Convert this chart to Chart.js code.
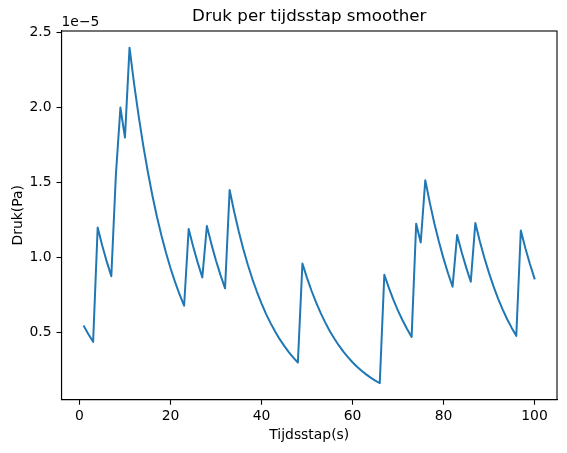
<!DOCTYPE html>
<html>
<head>
<meta charset="utf-8">
<script src="https://cdn.jsdelivr.net/npm/chart.js@4/dist/chart.umd.min.js"></script>
<style>
    html, body { margin: 0; padding: 0; background: #fff; }
    #wrap { width: 567px; height: 453px; }
</style>
</head>
<body>
<div id="wrap"><canvas id="drukChart" width="567" height="453"></canvas></div>
<script>
"use strict";

// Druk per tijdsstap, in eenheden van 1e-5 Pa
const pressure = [
    0.540, 0.486, 0.437, 1.200, 1.080, 0.972, 0.875, 1.550, 2.000, 1.800,
    2.400, 2.160, 1.944, 1.750, 1.575, 1.417, 1.275, 1.148, 1.033, 0.930,
    0.837, 0.753, 0.678, 1.190, 1.071, 0.964, 0.867, 1.210, 1.089, 0.980,
    0.882, 0.794, 1.450, 1.305, 1.175, 1.057, 0.951, 0.856, 0.771, 0.694,
    0.624, 0.562, 0.506, 0.455, 0.410, 0.369, 0.332, 0.299, 0.960, 0.864,
    0.778, 0.700, 0.630, 0.567, 0.510, 0.459, 0.413, 0.372, 0.335, 0.301,
    0.271, 0.244, 0.220, 0.198, 0.178, 0.162, 0.885, 0.797, 0.717, 0.645,
    0.581, 0.523, 0.470, 1.225, 1.100, 1.515, 1.364, 1.227, 1.105, 0.994,
    0.895, 0.805, 1.150, 1.035, 0.932, 0.838, 1.230, 1.107, 0.996, 0.897,
    0.807, 0.726, 0.654, 0.588, 0.530, 0.477, 1.180, 1.062, 0.956, 0.860
];

// Tijdsstappen 1..100
const steps = pressure.map((_, i) => i + 1);

const xTicks = [0, 20, 40, 60, 80, 100];
const yTicks = [0.5, 1.0, 1.5, 2.0, 2.5];

const FONT = "'DejaVu Sans', 'Liberation Sans', sans-serif";

// Titel, offset-tekst en kader rond de assen (zoals matplotlib)
const framePlugin = {
    id: "frame",
    afterDraw(chart) {
        const { ctx, chartArea: a } = chart;
        ctx.save();
        ctx.strokeStyle = "#000";
        ctx.lineWidth = 1.1;
        ctx.strokeRect(a.left, a.top, a.right - a.left, a.bottom - a.top);

        ctx.fillStyle = "#000";
        ctx.textBaseline = "alphabetic";
        ctx.font = "16.7px " + FONT;
        ctx.textAlign = "center";
        ctx.fillText("Druk per tijdsstap smoother", (a.left + a.right) / 2, 21);

        ctx.font = "13.9px " + FONT;
        ctx.textAlign = "left";
        ctx.fillText("1e\u22125", a.left, 26);
        ctx.restore();
    }
};

function createLineChart() {
    const ctx = document.getElementById("drukChart");
    new Chart(ctx, {
        type: "line",
        data: {
            datasets: [{
                label: "Druk",
                data: steps.map((s, i) => ({ x: s, y: pressure[i] })),
                borderColor: "#1f77b4",
                borderWidth: 2,
                borderJoinStyle: "round",
                borderCapStyle: "square",
                pointRadius: 0,
                tension: 0,
                fill: false
            }]
        },
        options: {
            responsive: false,
            devicePixelRatio: 1,
            animation: false,
            layout: { padding: { left: 0, right: 10, top: 31, bottom: 0 } },
            plugins: {
                legend: { display: false },
                title: { display: false },
                tooltip: { enabled: false }
            },
            scales: {
                x: {
                    type: "linear",
                    min: -3.95,
                    max: 104.95,
                    afterBuildTicks: s => { s.ticks = xTicks.map(v => ({ value: v })); },
                    afterFit: s => { s.height = 53.3; },
                    border: { display: true, color: "#000", width: 1.1 },
                    grid: { drawOnChartArea: false, drawTicks: true, tickLength: 5, tickColor: "#000", tickWidth: 1.1 },
                    ticks: {
                        color: "#000",
                        font: { family: FONT, size: 13.9 },
                        padding: 3,
                        maxRotation: 0,
                        callback: v => String(v)
                    },
                    title: {
                        display: true,
                        text: "Tijdsstap(s)",
                        color: "#000",
                        font: { family: FONT, size: 13.9 },
                        padding: { top: 0, bottom: 9 }
                    }
                },
                y: {
                    type: "linear",
                    min: 0.051,
                    max: 2.511,
                    afterBuildTicks: s => { s.ticks = yTicks.map(v => ({ value: v })); },
                    afterFit: s => { s.width = 61.5; },
                    border: { display: true, color: "#000", width: 1.1 },
                    grid: { drawOnChartArea: false, drawTicks: true, tickLength: 5, tickColor: "#000", tickWidth: 1.1 },
                    ticks: {
                        color: "#000",
                        font: { family: FONT, size: 13.9 },
                        padding: 5,
                        callback: v => v.toFixed(1)
                    },
                    title: {
                        display: true,
                        text: "Druk(Pa)",
                        color: "#000",
                        font: { family: FONT, size: 13.9 },
                        padding: { top: 10, bottom: 0 }
                    }
                }
            }
        },
        plugins: [framePlugin]
    });
}

document.addEventListener("DOMContentLoaded", () => {
    createLineChart();
});
</script>
</body>
</html>
